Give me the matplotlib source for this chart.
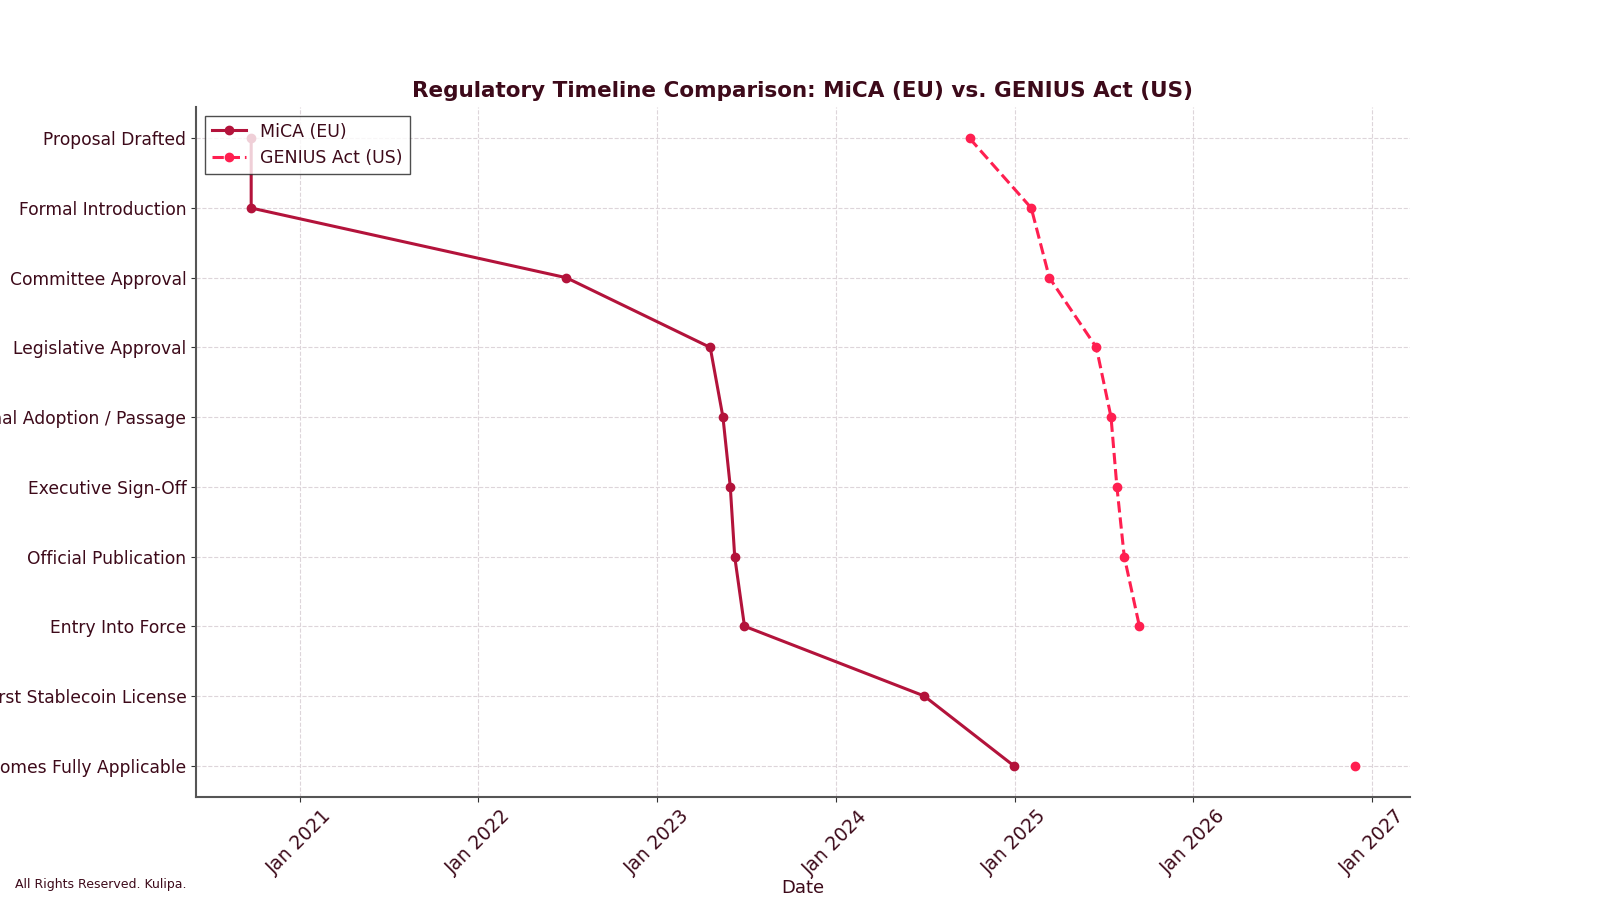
import matplotlib
matplotlib.use("Agg")
import matplotlib.pyplot as plt
import matplotlib.dates as mdates
import numpy as np
import pandas as pd

stages = ["Proposal Drafted", "Formal Introduction", "Committee Approval",
          "Legislative Approval", "Final Adoption / Passage", "Executive Sign-Off",
          "Official Publication", "Entry Into Force", "First Stablecoin License",
          "Becomes Fully Applicable"]

mica_dates = ["2020-09-24", "2020-09-24", "2022-06-30", "2023-04-20", "2023-05-16",
              "2023-05-31", "2023-06-09", "2023-06-29", "2024-06-30", "2024-12-30"]
genius_dates = ["2024-10-01", "2025-02-04", "2025-03-13", "2025-06-17", "2025-07-17",
                "2025-07-29", "2025-08-13", "2025-09-13", None, "2026-11-27"]

mica_color = "#b3133b"
genius_color = "#ff1f50"
text_color = "#3d0a1a"

mica = pd.to_datetime(pd.Series(mica_dates))
genius = pd.to_datetime(pd.Series(genius_dates))
ypos = np.arange(len(stages))

fig = plt.figure(figsize=(16, 9.14), dpi=100)
ax = fig.add_axes([0.1225, 0.128, 0.7587, 0.755])

ax.plot(mica, ypos, "-o", color=mica_color, lw=2.2, ms=6, label="MiCA (EU)")
ax.plot(genius, ypos, "--o", color=genius_color, lw=2.2, ms=6, label="GENIUS Act (US)")

ax.set_yticks(ypos)
ax.set_yticklabels(stages)
ax.invert_yaxis()

ax.xaxis.set_major_locator(mdates.YearLocator())
ax.xaxis.set_major_formatter(mdates.DateFormatter("%b %Y"))
for lbl in ax.get_xticklabels():
    lbl.set_rotation(45)
    lbl.set_ha("center")

ax.tick_params(axis="y", labelsize=12.3, colors=text_color)
ax.tick_params(axis="x", labelsize=13.5, colors=text_color)
ax.tick_params(axis="both", color="#333333")
ax.grid(True, linestyle="--", color="#ddd5da", lw=0.8)
for s in ["top", "right"]:
    ax.spines[s].set_visible(False)
for s in ["left", "bottom"]:
    ax.spines[s].set_color("#555555")
    ax.spines[s].set_linewidth(1.5)

ax.set_title("Regulatory Timeline Comparison: MiCA (EU) vs. GENIUS Act (US)",
             fontsize=15.5, fontweight="bold", color=text_color, pad=7)
ax.set_xlabel("Date", fontsize=13, color=text_color, labelpad=0)

leg = ax.legend(loc="upper left", fontsize=12.5, framealpha=0.8, edgecolor="#222222",
                fancybox=False, borderaxespad=0.5)
for t in leg.get_texts():
    t.set_color(text_color)

fig.text(0.0095, 0.028, "All Rights Reserved. Kulipa.", fontsize=9, color=text_color)

fig.savefig("out.png", dpi=100)
